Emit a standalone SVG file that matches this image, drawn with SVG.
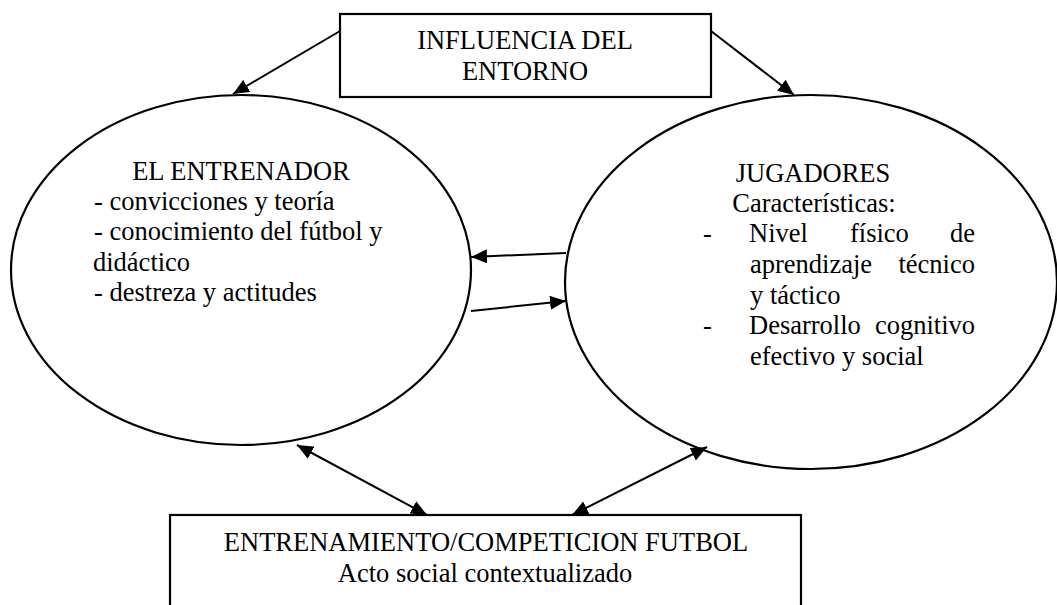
<svg xmlns="http://www.w3.org/2000/svg" width="1057" height="605" viewBox="0 0 1057 605">
<style>
text{font-family:"Liberation Serif","Times New Roman",serif;font-size:26.5px;fill:#000}
.shape{fill:#fff;stroke:#000;stroke-width:2.2}
.conn{stroke:#000;stroke-width:2;fill:none}
.mid{text-anchor:middle}
.end{text-anchor:end}
</style>
<defs>
<marker id="ah" markerUnits="userSpaceOnUse" markerWidth="17" markerHeight="14" refX="16" refY="7" orient="auto-start-reverse" viewBox="0 0 17 14">
<path d="M0,0 L16,7 L0,14 z" fill="#000"/>
</marker>
</defs>
<rect width="1057" height="605" fill="#fff"/>
<g id="entrenador">
<ellipse class="shape" cx="241" cy="270" rx="230" ry="175"/>
<text class="mid" x="241" y="180">EL ENTRENADOR</text>
<text x="94" y="210">- convicciones y teoría</text>
<text x="94" y="240">- conocimiento del fútbol y</text>
<text x="93" y="271">didáctico</text>
<text x="94" y="301">- destreza y actitudes</text>
</g>
<g id="jugadores">
<ellipse class="shape" cx="811" cy="282" rx="246" ry="187"/>
<text class="mid" x="813" y="182">JUGADORES</text>
<text class="mid" x="814" y="212">Características:</text>
<text x="703" y="242">-</text>
<text x="749" y="242">Nivel</text>
<text x="850" y="242">físico</text>
<text class="end" x="975" y="242">de</text>
<text x="750" y="273">aprendizaje</text>
<text class="end" x="975" y="273">técnico</text>
<text x="750" y="304">y táctico</text>
<text x="703" y="334">-</text>
<text x="749" y="334">Desarrollo</text>
<text class="end" x="975" y="334">cognitivo</text>
<text x="750" y="365">efectivo y social</text>
</g>
<g id="entorno">
<rect class="shape" x="340" y="14" width="371" height="83"/>
<text class="mid" x="525" y="49">INFLUENCIA DEL</text>
<text class="mid" x="525" y="80">ENTORNO</text>
</g>
<g id="entrenamiento">
<rect class="shape" x="170" y="515" width="631" height="130"/>
<text class="mid" x="486" y="551">ENTRENAMIENTO/COMPETICION FUTBOL</text>
<text class="mid" x="485" y="582">Acto social contextualizado</text>
</g>
<g id="connectors">
<line class="conn" x1="340" y1="31" x2="233" y2="94" marker-end="url(#ah)"/>
<line class="conn" x1="711" y1="31" x2="794" y2="95" marker-end="url(#ah)"/>
<line class="conn" x1="566" y1="253" x2="471" y2="257" marker-end="url(#ah)"/>
<line class="conn" x1="471" y1="311" x2="566" y2="301" marker-end="url(#ah)"/>
<line class="conn" x1="297" y1="445" x2="427" y2="515" marker-start="url(#ah)" marker-end="url(#ah)"/>
<line class="conn" x1="707" y1="447" x2="572" y2="515" marker-start="url(#ah)" marker-end="url(#ah)"/>
</g>
</svg>
